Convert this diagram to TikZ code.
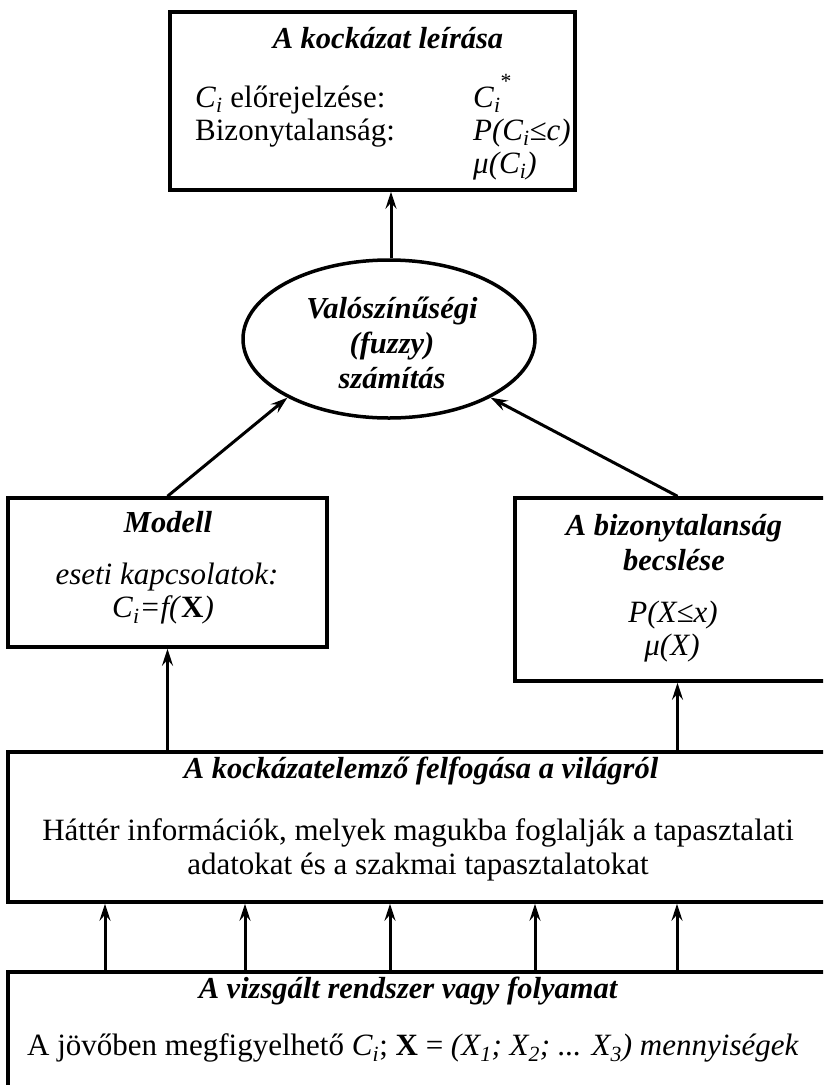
\documentclass[tikz,border=0pt]{standalone}
\usepackage{fontspec}
\setmainfont{Liberation Serif}
\usetikzlibrary{arrows.meta,shapes.geometric}
\newcommand{\Cisub}{\textit{C}\textsubscript{\textit{i}}}
\begin{document}
\begin{tikzpicture}[x=1pt,y=-1pt,
  box/.style={draw,line width=3.5pt,rectangle,inner sep=0pt},
  txt/.style={inner sep=0pt,font=\fontsize{31}{34}\selectfont},
  ttl/.style={inner sep=0pt,font=\fontsize{30.5}{35}\selectfont\bfseries\itshape},
  arr/.style={line width=3pt,-{Stealth[length=17pt,width=11pt,inset=6pt]}}]
\useasboundingbox (0,0) rectangle (823,1085);
\clip (0,0) rectangle (823,1085);
\fill[white] (0,0) rectangle (823,1085);
% boxes
\node[box,minimum width=405pt,minimum height=178pt] (top) at (372.5,101) {};
\node[box,ellipse,minimum width=292pt,minimum height=158pt] (ell) at (389,339) {};
\node[box,minimum width=319pt,minimum height=149pt] (modell) at (167.5,572.5) {};
\node[box,minimum width=325pt,minimum height=183pt] (bizb) at (677.5,589.5) {};
\node[box,minimum width=832pt,minimum height=150pt] (mid) at (424,827) {};
\node[box,minimum width=832pt,minimum height=140pt] (bot) at (424,1042) {};
% top box text
\node[ttl] (t1) at (388,38) {A kockázat leírása};
\node[txt,anchor=base west] (t2) at (195,107) {\Cisub{} előrejelzése:};
\node[txt,anchor=base west] (t3) at (195,140) {Bizonytalanság:};
\node[txt,anchor=base west] (t4) at (473,107) {\textit{C}\textsubscript{\textit{i}}\raisebox{0.3em}{\textsuperscript{*}}};
\node[txt,anchor=base west] (t5) at (473,140) {\textit{P(C\textsubscript{i}≤c)}};
\node[txt,anchor=base west] (t6) at (473,173) {\textit{μ(C\textsubscript{i})}};
% ellipse text
\node[ttl,align=center] (e1) at (392,343) {Valószínűségi\\(fuzzy)\\számítás};
% modell text
\node[ttl] (m1) at (168,522) {Modell};
\node[txt] (m2) at (167,577) {\textit{eseti kapcsolatok:}};
\node[txt] (m3) at (163,610) {\Cisub\textit{=f(}\textbf{X}\textit{)}};
% right box text
\node[ttl,align=center] (b1) at (674,543) {A bizonytalanság\\becslése};
\node[txt] (b2) at (673,615) {\textit{P(X≤x)}};
\node[txt] (b3) at (672,648) {\textit{μ(X)}};
% middle box text
\node[ttl] (k1) at (421,771) {A kockázatelemző felfogása a világról};
\node[txt,align=center] (k2) at (418,850) {Háttér információk, melyek magukba foglalják a tapasztalati\\adatokat és a szakmai tapasztalatokat};
% bottom box text
\node[ttl] (v1) at (408,991) {A vizsgált rendszer vagy folyamat};
\node[txt] (v2) at (413,1048) {A jövőben megfigyelhető \Cisub; \textbf{X} = \textit{(X\textsubscript{1}; X\textsubscript{2}; ... X\textsubscript{3}) mennyiségek}};
% connectors
\coordinate (ca) at (391,0);
\draw[arr] (ell.north -| ca) -- (top.south -| ca);
\draw[arr] (modell.north) -- (ell.210);
\draw[arr] (bizb.north) -- (ell.330);
\draw[arr] (mid.north -| modell.south) -- (modell.south);
\draw[arr] (mid.north -| bizb.south) -- (bizb.south);
\foreach \x/\n in {105/a,245/b,390/c,535/d,677/e}{
  \coordinate (x\n) at (\x,0);
  \draw[arr] (bot.north -| x\n) -- (mid.south -| x\n);
}
\end{tikzpicture}
\end{document}
